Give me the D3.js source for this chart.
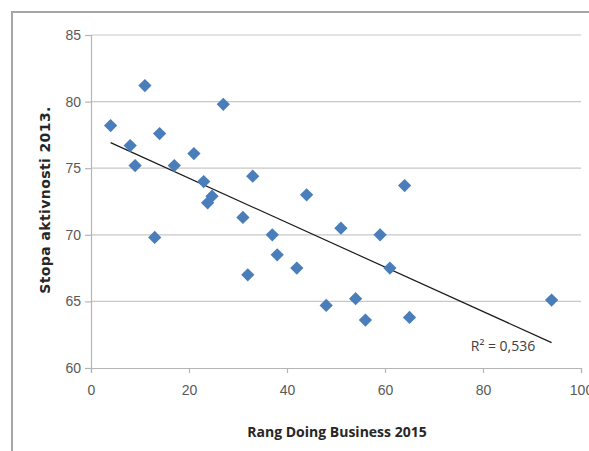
<!DOCTYPE html>
<html>
<head>
<meta charset="utf-8">
<script src="https://cdn.jsdelivr.net/npm/d3@7"></script>
<style>
  body { margin: 0; background: #fff; }
  svg { display: block; font-family: "Liberation Sans Narrow", "Open Sans", sans-serif; }
</style>
</head>
<body>
<svg id="chart" width="589" height="451"></svg>
<script>
// rang Doing Business 2015 (x) vs. stopa aktivnosti 2013 (y)
const rank = [4, 11, 8, 9, 14, 13, 17, 21, 27, 23, 24.7, 23.8, 33, 31, 32, 37, 38, 42, 44, 48, 51, 54, 56, 59, 61, 64, 65, 94];
const rate = [78.2, 81.2, 76.7, 75.2, 77.6, 69.8, 75.2, 76.1, 79.8, 74.0, 72.9, 72.4, 74.4, 71.3, 67.0, 70.0, 68.5, 67.5, 73.0, 64.7, 70.5, 65.2, 63.6, 70.0, 67.5, 73.7, 63.8, 65.1];
const xTicks = [0, 20, 40, 60, 80, 100];
const yTicks = [60, 65, 70, 75, 80, 85];
const r2Label = "R² = 0,536";

const svg = d3.select("#chart");

// outer frame (cut by the picture on right and bottom)
svg.append("path")
  .attr("d", "M12,451 L12,12 L589,12")
  .attr("fill", "none")
  .attr("stroke", "#a6a6a6")
  .attr("stroke-width", 2);

const x = d3.scaleLinear().domain([0, 100]).range([91, 581]);
const y = d3.scaleLinear().domain([60, 85]).range([368, 35]);

// gridlines
svg.append("g")
  .selectAll("line")
  .data(yTicks.slice(1))
  .join("line")
    .attr("x1", x(0)).attr("x2", x(100))
    .attr("y1", d => y(d)).attr("y2", d => y(d))
    .attr("stroke", "#c8c8c8")
    .attr("stroke-width", 1.2);

// y axis
const yAxis = svg.append("g")
  .attr("transform", `translate(${x(0)},0)`)
  .call(d3.axisLeft(y).tickValues(yTicks).tickSize(6).tickPadding(4));
// x axis
const xAxis = svg.append("g")
  .attr("transform", `translate(0,${y(60)})`)
  .call(d3.axisBottom(x).tickValues(xTicks).tickSize(5).tickPadding(12));

[xAxis, yAxis].forEach(g => {
  g.select(".domain").attr("stroke", "#b5b5b5").attr("stroke-width", 1.2);
  g.selectAll(".tick line").attr("stroke", "#b5b5b5").attr("stroke-width", 1.2);
  g.selectAll(".tick text")
    .attr("fill", "#595959")
    .style("font-size", "14px")
    .style("font-family", "Liberation Sans Narrow, sans-serif");
});
xAxis.selectAll(".tick line").attr("y1", 0);

// least squares trendline
const mx = d3.mean(rank), my = d3.mean(rate);
const slope = d3.sum(rank, (v, i) => (v - mx) * (rate[i] - my)) / d3.sum(rank, v => (v - mx) ** 2);
const icpt = my - slope * mx;
const [x0, x1] = d3.extent(rank);
svg.append("line")
  .attr("x1", x(x0)).attr("y1", y(icpt + slope * x0))
  .attr("x2", x(x1)).attr("y2", y(icpt + slope * x1))
  .attr("stroke", "#1a1a1a")
  .attr("stroke-width", 1.2);

// points
svg.append("g")
  .selectAll("path")
  .data(rank.map((v, i) => [v, rate[i]]))
  .join("path")
    .attr("d", d3.symbol(d3.symbolSquare, 88))
    .attr("transform", d => `translate(${x(d[0])},${y(d[1])}) rotate(45)`)
    .attr("fill", "#4a7ebb");

// R² label
svg.append("text")
  .attr("x", 503).attr("y", 351)
  .attr("text-anchor", "middle")
  .attr("fill", "#404040")
  .style("font-size", "14px")
  .text(r2Label);

// axis titles
svg.append("text")
  .attr("x", 337).attr("y", 437)
  .attr("text-anchor", "middle")
  .attr("font-weight", "bold")
  .attr("fill", "#262626")
  .style("font-size", "14px")
  .text("Rang Doing Business 2015");

svg.append("text")
  .attr("transform", "translate(50,200) rotate(-90)")
  .attr("text-anchor", "middle")
  .attr("font-weight", "bold")
  .attr("fill", "#262626")
  .style("font-family", "DejaVu Sans, sans-serif")
  .style("font-size", "14px")
  .style("letter-spacing", "0.4px")
  .text("Stopa aktivnosti 2013.");
</script>
</body>
</html>
